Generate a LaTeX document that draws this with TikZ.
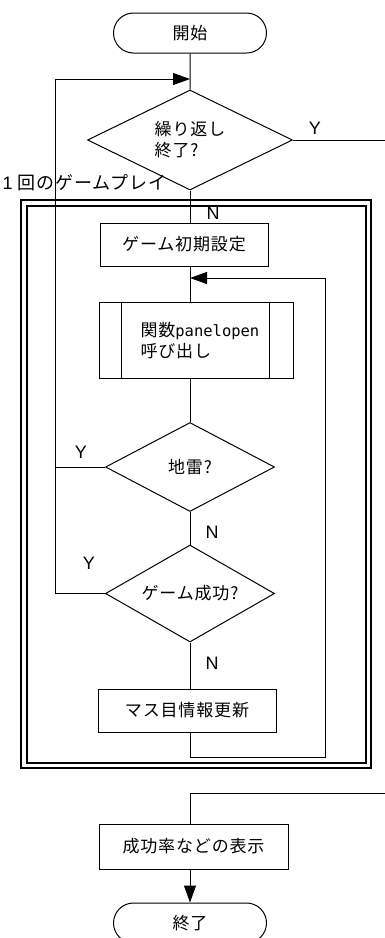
\documentclass[tikz,border=0pt]{standalone}
\usepackage{fontspec}
\setmainfont{Liberation Sans}
\newfontfamily\jp[LetterSpace=5]{Noto Sans CJK JP}
\newfontfamily\monof{DejaVu Sans Mono}
\usetikzlibrary{shapes.geometric,shapes.misc,arrows.meta}
\begin{document}
\begin{tikzpicture}[x=1pt,y=-1pt,line width=1pt,
 every node/.style={font=\jp\fontsize{17}{21}\selectfont},
 proc/.style={draw,rectangle,inner sep=0pt},
 term/.style={draw,rounded rectangle,minimum width=153pt,minimum height=40pt,inner sep=0pt},
 dec/.style={draw,diamond,aspect=2,inner sep=0pt,align=left},
 lbl/.style={font=\fontsize{18}{18}\selectfont,inner sep=0pt},
 arr/.style={-{Triangle[length=17pt,width=12pt]}}]
\useasboundingbox (0,0) rectangle (385,938);
\clip (0,0) rectangle (385,938);

% frame
\draw[line width=1.2pt] (21,200) rectangle (371,768);
\draw[line width=1.2pt] (27,206) rectangle (366,763);
\node[anchor=west,inner sep=0pt,font=\jp\fontsize{18}{21}\selectfont] (fl) at (2,183) {{\fontspec{Liberation Sans}1}\hspace{5pt}回のゲームプレイ};

\node[term] (start) at (190,33) {開始};
\node[dec,minimum width=205pt,minimum height=100pt] (d1) at (190,140) {繰り返し\\終了?};
\node[proc,minimum width=168pt,minimum height=43pt] (b1) at (184,244.5) {ゲーム初期設定};
\node[proc,minimum width=194pt,minimum height=76pt] (sub) at (196,340) {};
\node[anchor=west,align=left,inner sep=0pt] (subt) at (140,341) {関数{\monof\fontsize{15.5}{21}\selectfont panelopen}\\呼び出し};
\draw (sub.north west) ++(23,0) -- ++(0,76);
\draw (sub.north east) ++(-24,0) -- ++(0,76);
\node[dec,minimum width=169pt,minimum height=89pt] (d2) at (190,467) {地雷?};
\node[dec,minimum width=169pt,minimum height=97pt] (d3) at (190,593.5) {ゲーム成功?};
\node[proc,minimum width=178pt,minimum height=43pt] (b3) at (187,710.5) {マス目情報更新};
\node[proc,minimum width=189pt,minimum height=45pt] (b4) at (193.5,846.5) {成功率などの表示};
\node[term] (end) at (190,923) {終了};

\coordinate (j1) at (190,79);
\coordinate (lt) at (55,79);
\coordinate (j2) at (190,278);
\coordinate (rb) at (325,757);
\coordinate (yr) at (386,140);
\coordinate (yr2) at (386,793);
\coordinate (j4) at (190,793);

\draw (start) -- (d1.north);
\draw[arr] (d3.west) -| (lt) -- (j1);
\draw (d2.west) -- (d2.west -| lt);
\draw (d1.east) -- (yr);
\draw (d1.south) -- (d1.south |- b1.north);
\draw (d1.south |- b1.south) -- (d1.south |- sub.north);
\draw[arr] (d1.south |- b3.south) |- (rb) |- (j2);
\draw (d2.north |- sub.south) -- (d2.north);
\draw (d2.south) -- (d3.north);
\draw (d3.south) -- (d3.south |- b3.north);
\draw (yr2) -- (j4) -- (j4 |- b4.north);
\draw[arr] (j4 |- b4.south) -- (end.north);

\node[lbl] (y1) at (315,128) {Y};
\node[lbl] (n1) at (213,213) {N};
\node[lbl] (y2) at (81,452) {Y};
\node[lbl] (n2) at (212,532) {N};
\node[lbl] (y3) at (89,563) {Y};
\node[lbl] (n3) at (212,663) {N};
\end{tikzpicture}
\end{document}
